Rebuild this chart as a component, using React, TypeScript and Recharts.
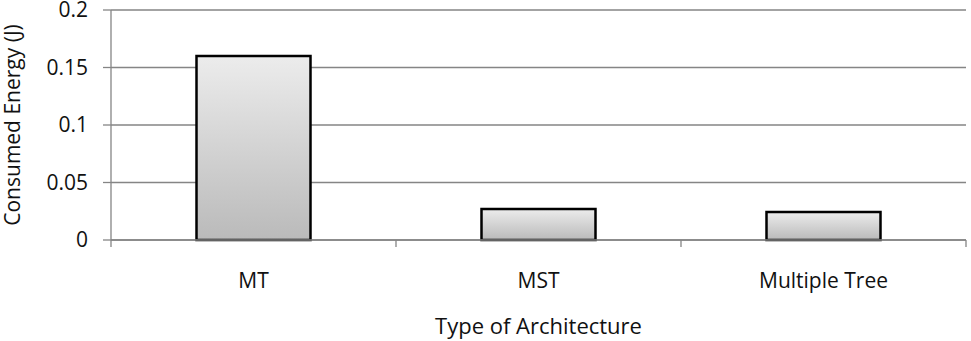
import { BarChart, Bar, XAxis, YAxis, CartesianGrid } from 'recharts'

const categories = ['MT', 'MST', 'Multiple Tree']
const energy = [0.16, 0.027, 0.0243]
const yTicks = [0, 0.05, 0.1, 0.15, 0.2]

const data = categories.map((name, i) => ({ name, energy: energy[i] }))

const FONT = '"Open Sans", "Liberation Sans", sans-serif'
const AXIS = '#858585'

function CategoryTick(props: any) {
  const { x, y, payload, index, visibleTicksCount } = props
  const half = payload?.offset ?? 0
  const last = index === (visibleTicksCount ?? categories.length) - 1
  return (
    <g>
      <line x1={x - half} y1={y - 8} x2={x - half} y2={y - 1} stroke={AXIS} strokeWidth={1.3} />
      {last && <line x1={x + half} y1={y - 8} x2={x + half} y2={y - 1} stroke={AXIS} strokeWidth={1.3} />}
      <text x={x} y={y + 40} textAnchor="middle" fontSize={21} fill="#111" fontFamily={FONT}>
        {payload.value}
      </text>
    </g>
  )
}

export default function App() {
  return (
    <div style={{ position: 'absolute', left: 0, top: 0, background: '#fff' }}>
      <BarChart
        width={971}
        height={341}
        data={data}
        margin={{ top: 10, right: 5, left: 0, bottom: 0 }}
        barCategoryGap="30%"
      >
        <defs>
          <linearGradient id="barFill" x1="0" y1="0" x2="0" y2="1">
            <stop offset="0%" stopColor="#ececec" />
            <stop offset="100%" stopColor="#bababa" />
          </linearGradient>
        </defs>
        <CartesianGrid vertical={false} stroke={AXIS} strokeWidth={1.3} />
        <XAxis
          dataKey="name"
          height={101}
          axisLine={{ stroke: AXIS, strokeWidth: 1.3 }}
          tickLine={false}
          tick={<CategoryTick />}
          interval={0}
          label={{
            value: 'Type of Architecture',
            position: 'insideBottom',
            offset: 7,
            fontSize: 22,
            fill: '#111',
            fontFamily: FONT,
          }}
        />
        <YAxis
          width={111}
          domain={[0, 0.2]}
          ticks={yTicks}
          interval={0}
          axisLine={{ stroke: AXIS, strokeWidth: 1.3 }}
          tickLine={{ stroke: AXIS, strokeWidth: 1.3 }}
          tickSize={8}
          tickMargin={15}
          tick={{ fontSize: 21, fill: '#111', fontFamily: FONT }}
          label={{
            value: 'Consumed Energy (J)',
            angle: -90,
            position: 'insideLeft',
            offset: 13,
            style: { textAnchor: 'middle' },
            fontSize: 21,
            fill: '#111',
            fontFamily: FONT,
          }}
        />
        <Bar
          dataKey="energy"
          fill="url(#barFill)"
          stroke="#000"
          strokeWidth={2.5}
          isAnimationActive={false}
        />
      </BarChart>
    </div>
  )
}
